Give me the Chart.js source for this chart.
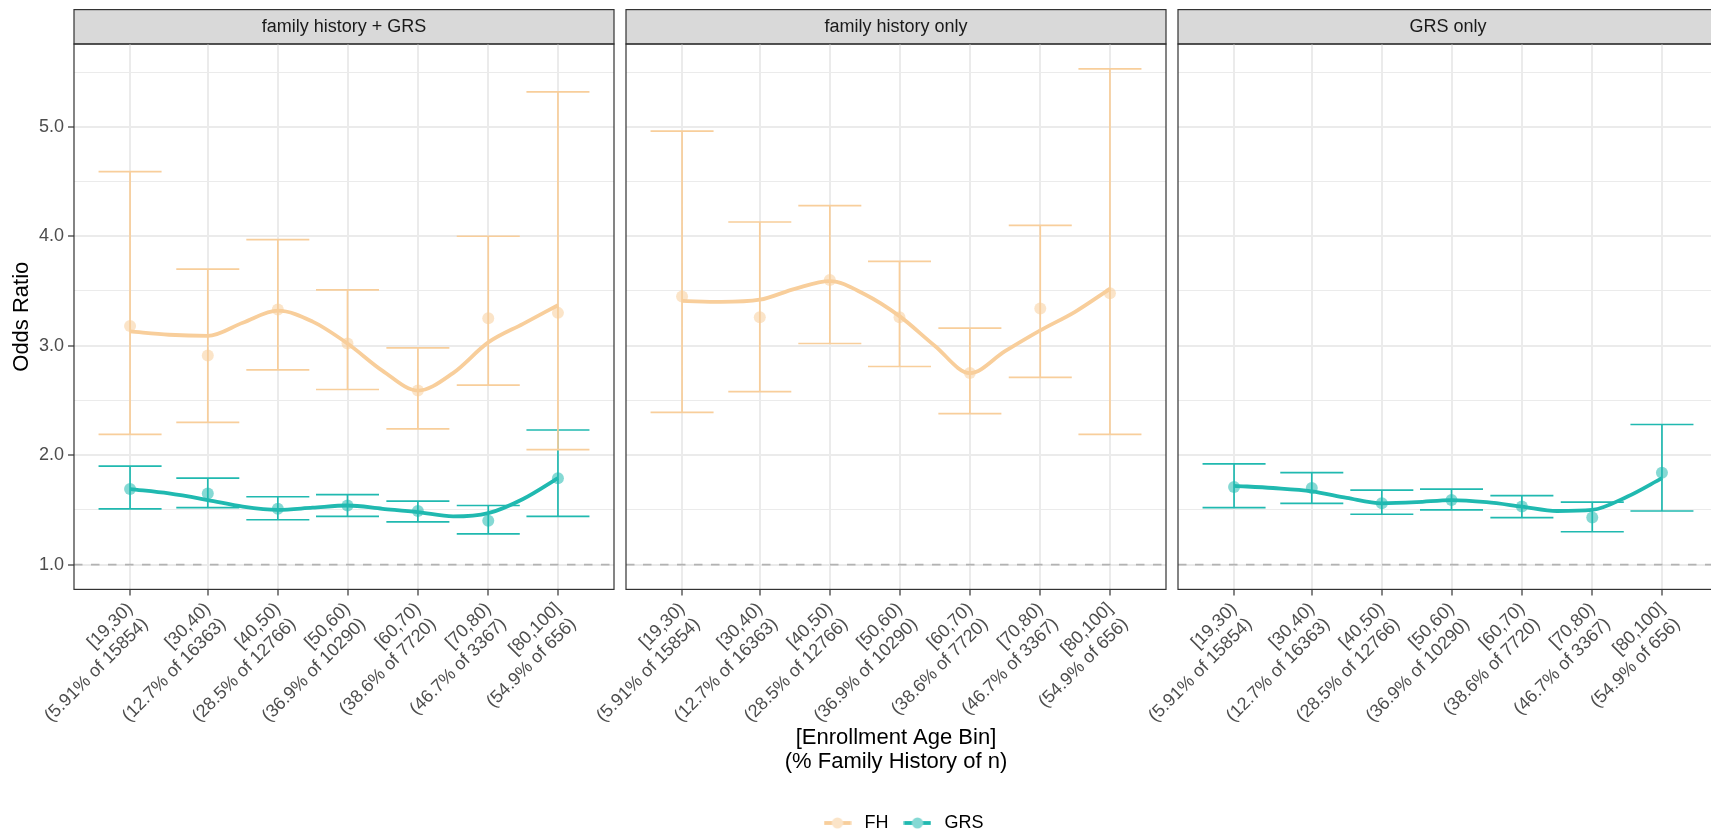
<!DOCTYPE html>
<html>
<head>
<meta charset="utf-8">
<title>Odds Ratio by Enrollment Age Bin</title>
<script src="https://cdn.jsdelivr.net/npm/chart.js@4.4.1/dist/chart.umd.min.js"></script>
<style>
  html, body { margin: 0; padding: 0; background: #ffffff; }
  body { width: 1711px; height: 835px; position: relative; overflow: hidden; }
  canvas { position: absolute; top: 0; }
</style>
</head>
<body>
<canvas id="panel-fh-grs" width="620" height="835" style="left:0px"></canvas>
<canvas id="panel-fh" width="731" height="842" style="left:536px"></canvas>
<canvas id="panel-grs" width="636" height="835" style="left:1088px"></canvas>
<script>
// x position of each enrollment age bin and its two-line label
const binX = [25.0, 36.1, 46.1, 56.05, 66.1, 76.15, 86.1];
const binLabels = [
  ['[19,30)', '(5.91% of 15854)'],
  ['[30,40)', '(12.7% of 16363)'],
  ['[40,50)', '(28.5% of 12766)'],
  ['[50,60)', '(36.9% of 10290)'],
  ['[60,70)', '(38.6% of 7720)'],
  ['[70,80)', '(46.7% of 3367)'],
  ['[80,100]', '(54.9% of 656)']
];
const yTicks = [1.0, 1.5, 2.0, 2.5, 3.0, 3.5, 4.0, 4.5, 5.0, 5.5];
const refOdds = 1;

const fitX = [25.0, 30.55, 36.1, 41.1, 46.1, 51.07, 56.05, 61.07, 66.1, 71.12, 76.15, 81.12, 86.1];

// family history + GRS
const bothFhOr  = [3.18, 2.91, 3.33, 3.02, 2.59, 3.25, 3.30];
const bothFhLo  = [2.19, 2.30, 2.78, 2.60, 2.24, 2.64, 2.05];
const bothFhHi  = [4.59, 3.70, 3.97, 3.51, 2.98, 4.00, 5.32];
const bothFhFit = [3.13, 3.10, 3.09, 3.21, 3.32, 3.22, 3.02, 2.77, 2.59, 2.75, 3.03, 3.20, 3.37];
const bothGrsOr  = [1.69, 1.65, 1.51, 1.54, 1.49, 1.40, 1.79];
const bothGrsLo  = [1.51, 1.52, 1.41, 1.44, 1.39, 1.28, 1.44];
const bothGrsHi  = [1.90, 1.79, 1.62, 1.64, 1.58, 1.54, 2.23];
const bothGrsFit = [1.69, 1.65, 1.59, 1.53, 1.50, 1.52, 1.54, 1.51, 1.48, 1.44, 1.47, 1.60, 1.79];

// family history only
const fhOnlyOr  = [3.45, 3.26, 3.60, 3.26, 2.75, 3.34, 3.48];
const fhOnlyLo  = [2.39, 2.58, 3.02, 2.81, 2.38, 2.71, 2.19];
const fhOnlyHi  = [4.96, 4.13, 4.28, 3.77, 3.16, 4.10, 5.53];
const fhOnlyFit = [3.41, 3.40, 3.42, 3.52, 3.59, 3.47, 3.27, 3.00, 2.75, 2.95, 3.14, 3.31, 3.52];

// GRS only
const grsOnlyOr  = [1.71, 1.70, 1.56, 1.59, 1.53, 1.43, 1.84];
const grsOnlyLo  = [1.52, 1.56, 1.46, 1.50, 1.43, 1.30, 1.49];
const grsOnlyHi  = [1.92, 1.84, 1.68, 1.69, 1.63, 1.57, 2.28];
const grsOnlyFit = [1.72, 1.70, 1.67, 1.61, 1.56, 1.57, 1.59, 1.57, 1.53, 1.49, 1.50, 1.62, 1.79];

const FH_LINE = '#F8CE9B';
const FH_POINT = 'rgba(248, 206, 155, 0.55)';
const GRS_LINE = '#20B9B0';
const GRS_POINT = 'rgba(32, 185, 176, 0.55)';
const PLOT_BOTTOM = 589.4;
const CAP_HALF = 4.5;

Chart.defaults.font.family = '"Liberation Sans", Arial, Helvetica, sans-serif';
Chart.defaults.font.size = 18;
Chart.defaults.color = '#4D4D4D';

// shared scale limits, ggplot style 5% expansion
const xLo = Math.min(...binX) - CAP_HALF, xHi = Math.max(...binX) + CAP_HALF;
const xMin = xLo - (xHi - xLo) * 0.05, xMax = xHi + (xHi - xLo) * 0.05;
const allHi = [].concat(bothFhHi, bothGrsHi, fhOnlyHi, grsOnlyHi);
const allLo = [].concat(bothFhLo, bothGrsLo, fhOnlyLo, grsOnlyLo, [refOdds]);
const yLo = Math.min(...allLo), yHi = Math.max(...allHi);
const yMin = yLo - (yHi - yLo) * 0.05, yMax = yHi + (yHi - yLo) * 0.05;

function errorBars(lo, hi) {
  const pts = [];
  binX.forEach((x, i) => {
    pts.push({x: x, y: lo[i]}, {x: x, y: hi[i]}, {x: x, y: null});
    pts.push({x: x - CAP_HALF, y: hi[i]}, {x: x + CAP_HALF, y: hi[i]}, {x: x, y: null});
    pts.push({x: x - CAP_HALF, y: lo[i]}, {x: x + CAP_HALF, y: lo[i]}, {x: x, y: null});
  });
  return pts;
}

function series(name, line, point, or, lo, hi, fit) {
  return [
    {label: name + ' smooth', data: fitX.map((x, i) => ({x: x, y: fit[i]})), borderColor: line,
     borderWidth: 3.8, pointRadius: 0, cubicInterpolationMode: 'monotone', order: 1},
    {label: name + ' CI', data: errorBars(lo, hi), borderColor: line, borderWidth: 1.7,
     pointRadius: 0, spanGaps: false, order: 2},
    {label: name, data: binX.map((x, i) => ({x: x, y: or[i]})), showLine: false, pointRadius: 6,
     pointBackgroundColor: point, pointBorderWidth: 0, order: 3}
  ];
}

function refLine() {
  return {label: 'OR = 1', data: [{x: xMin, y: refOdds}, {x: xMax, y: refOdds}], borderColor: '#B3B3B3',
          borderWidth: 1.8, borderDash: [8.5, 8.5], pointRadius: 0, order: 10};
}

function legendGlyph(line, point) {
  const c = document.createElement('canvas');
  c.width = 28; c.height = 14;
  const g = c.getContext('2d');
  g.strokeStyle = line; g.lineWidth = 3.8;
  g.beginPath(); g.moveTo(0.5, 7); g.lineTo(27.5, 7); g.stroke();
  g.fillStyle = '#ffffff';
  g.beginPath(); g.arc(14, 7, 5.5, 0, Math.PI * 2); g.fill();
  g.fillStyle = point;
  g.beginPath(); g.arc(14, 7, 5.5, 0, Math.PI * 2); g.fill();
  return c;
}

// grey strip behind the facet title, dark frame round the panel
const facetFrame = {
  id: 'facetFrame',
  beforeDraw(chart) {
    const {ctx, chartArea: a, titleBlock: t} = chart;
    ctx.save();
    ctx.fillStyle = '#D9D9D9';
    ctx.fillRect(a.left, t.top, a.right - a.left, a.top - t.top);
    ctx.strokeStyle = '#333333';
    ctx.lineWidth = 1.2;
    ctx.strokeRect(a.left, t.top, a.right - a.left, a.top - t.top);
    ctx.restore();
  },
  afterDatasetsDraw(chart) {
    const {ctx, chartArea: a} = chart;
    ctx.save();
    ctx.strokeStyle = '#333333';
    ctx.lineWidth = 1.2;
    ctx.strokeRect(a.left, a.top, a.right - a.left, a.bottom - a.top);
    ctx.restore();
  }
};

function panel(id, cfg) {
  const options = {
    responsive: false,
    animation: false,
    events: [],
    layout: {padding: cfg.padding},
    plugins: {
      legend: cfg.legend || {display: false},
      tooltip: {enabled: false},
      title: {display: true, text: cfg.strip, fullSize: false, color: '#1A1A1A',
              font: {size: 18, weight: 'normal'}, padding: {top: 6.4, bottom: 6.4}}
    },
    scales: {
      x: {
        type: 'linear', min: xMin, max: xMax,
        afterBuildTicks: s => { s.ticks = binX.map(v => ({value: v})); },
        afterFit: s => {
          s.height = s.chart.height - PLOT_BOTTOM - (s.chart.legend ? s.chart.legend.height : 0) - cfg.padding.bottom;
        },
        ticks: {autoSkip: false, minRotation: 45, maxRotation: 45, padding: 3, color: '#4D4D4D',
                font: {size: 18}, callback: (v, i) => binLabels[i]},
        grid: {color: '#EBEBEB', lineWidth: 2, tickColor: '#333333', tickLength: 6, tickWidth: 1.2},
        border: {display: false},
        title: cfg.xTitle ? {display: true, text: cfg.xTitle, color: '#000000', font: {size: 22, lineHeight: 1.1},
                             padding: {top: 0, bottom: 29}} : {display: false}
      },
      y: {
        type: 'linear', min: yMin, max: yMax, position: cfg.yPosition || 'left',
        afterBuildTicks: s => { s.ticks = yTicks.map(v => ({value: v})); },
        afterFit: s => { s.width = cfg.yWidth; },
        ticks: {display: !!cfg.yTitle, padding: 4, color: '#4D4D4D', font: {size: 18},
                callback: v => Number.isInteger(v) ? v.toFixed(1) : ''},
        grid: {color: '#EBEBEB', lineWidth: c => Number.isInteger(c.tick.value) ? 2 : 1,
               drawTicks: !!cfg.yTitle, tickLength: 6, tickWidth: 1.2,
               tickColor: c => Number.isInteger(c.tick.value) ? '#333333' : 'rgba(0,0,0,0)'},
        border: {display: false},
        title: cfg.yTitle ? {display: true, text: cfg.yTitle, color: '#000000', font: {size: 22},
                             padding: {top: 0, bottom: 0}} : {display: false}
      }
    }
  };
  return new Chart(document.getElementById(id), {
    type: 'line',
    data: {datasets: cfg.datasets},
    options: options,
    plugins: [facetFrame]
  });
}

panel('panel-fh-grs', {
  strip: 'family history + GRS',
  padding: {left: 9, right: 6, top: 9.6, bottom: 0},
  yWidth: 65,
  yTitle: 'Odds Ratio',
  datasets: [].concat(
    series('FH', FH_LINE, FH_POINT, bothFhOr, bothFhLo, bothFhHi, bothFhFit),
    series('GRS', GRS_LINE, GRS_POINT, bothGrsOr, bothGrsLo, bothGrsHi, bothGrsFit),
    [refLine()]
  )
});

panel('panel-fh', {
  strip: 'family history only',
  padding: {left: 90, right: 90, top: 9.6, bottom: 0},
  yWidth: 11,
  yPosition: 'right',
  xTitle: ['[Enrollment Age Bin]', '(% Family History of n)'],
  legend: {
    display: true, position: 'bottom',
    labels: {
      usePointStyle: true, pointStyleWidth: 36, padding: 11, color: '#000000', font: {size: 18},
      generateLabels: () => [
        {text: 'FH', pointStyle: legendGlyph(FH_LINE, FH_POINT), fillStyle: FH_LINE,
         strokeStyle: FH_LINE, lineWidth: 0, hidden: false, datasetIndex: 0},
        {text: 'GRS', pointStyle: legendGlyph(GRS_LINE, GRS_POINT), fillStyle: GRS_LINE,
         strokeStyle: GRS_LINE, lineWidth: 0, hidden: false, datasetIndex: 1}
      ]
    }
  },
  datasets: [].concat(
    series('FH', FH_LINE, FH_POINT, fhOnlyOr, fhOnlyLo, fhOnlyHi, fhOnlyFit),
    [refLine()]
  )
});

panel('panel-grs', {
  strip: 'GRS only',
  padding: {left: 90, right: 6, top: 9.6, bottom: 0},
  yWidth: 0,
  datasets: [].concat(
    series('GRS', GRS_LINE, GRS_POINT, grsOnlyOr, grsOnlyLo, grsOnlyHi, grsOnlyFit),
    [refLine()]
  )
});
</script>
</body>
</html>
